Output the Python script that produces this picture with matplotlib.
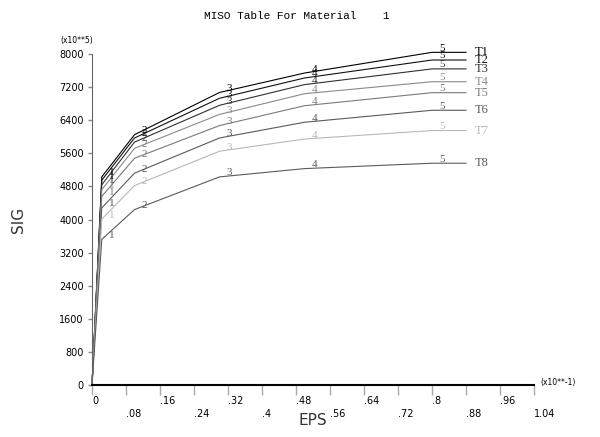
import matplotlib
matplotlib.use("Agg")
import matplotlib.pyplot as plt

# strain points (x10**-1) shared by all curves, last segment extended flat
eps = [0.0, 0.023, 0.1, 0.3, 0.5, 0.8]
eps_end = 0.88

# stress points (x10**5) for each temperature curve
sig_t1 = [0, 5030, 6050, 7070, 7540, 8040]
sig_t2 = [0, 4950, 5970, 6930, 7420, 7855]
sig_t3 = [0, 4840, 5870, 6760, 7260, 7640]
sig_t4 = [0, 4720, 5720, 6540, 7040, 7330]
sig_t5 = [0, 4560, 5480, 6270, 6750, 7065]
sig_t6 = [0, 4280, 5120, 5970, 6350, 6640]
sig_t7 = [0, 4010, 4820, 5650, 5945, 6150]
sig_t8 = [0, 3520, 4240, 5030, 5230, 5360]

curve_names = ["T1", "T2", "T3", "T4", "T5", "T6", "T7", "T8"]
curves = [sig_t1, sig_t2, sig_t3, sig_t4, sig_t5, sig_t6, sig_t7, sig_t8]
colors = ["#000000", "#101010", "#303030", "#8a8a8a", "#7a7a7a", "#5a5a5a", "#b8b8b8", "#5a5a5a"]

xticks = [0, 0.08, 0.16, 0.24, 0.32, 0.4, 0.48, 0.56, 0.64, 0.72, 0.8, 0.88, 0.96, 1.04]
xtick_labels = ["0", ".08", ".16", ".24", ".32", ".4", ".48", ".56", ".64", ".72", ".8", ".88", ".96", "1.04"]
yticks = [0, 800, 1600, 2400, 3200, 4000, 4800, 5600, 6400, 7200, 8000]

fig = plt.figure(figsize=(6, 4.37), dpi=100)
ax = fig.add_axes([92 / 600, 52 / 437, 442 / 600, 331 / 437])

for name, sig, col in zip(curve_names, curves, colors):
    ax.plot(eps + [eps_end], sig + [sig[-1]], color=col, lw=0.8, clip_on=False)
    # point numbers 1..5
    for i in range(1, len(eps)):
        ax.annotate(str(i), (eps[i], sig[i]), xytext=(10, 4), textcoords="offset pixels",
                    ha="center", va="center", fontsize=8, family="Liberation Serif",
                    color=col, annotation_clip=False)
    ax.annotate(name, (eps_end, sig[-1]), xytext=(9, 0), textcoords="offset pixels",
                ha="left", va="center", fontsize=9, family="Liberation Serif",
                color=col, annotation_clip=False)

ax.set_xlim(0, 1.04)
ax.set_ylim(0, 8000)
ax.set_xticks(xticks)
# alternate tick labels on two rows
ax.set_xticklabels([lab if k % 2 == 0 else "\n" + lab for k, lab in enumerate(xtick_labels)],
                   ha="left", fontsize=7, linespacing=1.3)
ax.set_yticks(yticks)
ax.set_yticklabels([str(v) for v in yticks], fontsize=7)
ax.tick_params(axis="x", length=7, width=1, color="#aaaaaa", pad=1)
ax.tick_params(axis="y", length=3, width=1, color="#888888", pad=3)

ax.spines["top"].set_visible(False)
ax.spines["right"].set_visible(False)
ax.spines["left"].set_color("#666666")
ax.spines["bottom"].set_linewidth(1.5)

ax.set_xlabel("EPS", fontsize=11, color="#333333", labelpad=-4)
ax.set_ylabel("SIG", fontsize=11, color="#333333", labelpad=24)

fig.text(77 / 600, 1 - 40 / 437, "(x10**5)", fontsize=5.5, ha="center", va="center")
fig.text(540 / 600, 1 - 383 / 437, "(x10**-1)", fontsize=5.5, ha="left", va="center")
fig.text(297 / 600, 1 - 16 / 437, "MISO Table For Material    1", fontsize=8,
         family="Liberation Mono", ha="center", va="center")

fig.savefig("out.png", dpi=100)
